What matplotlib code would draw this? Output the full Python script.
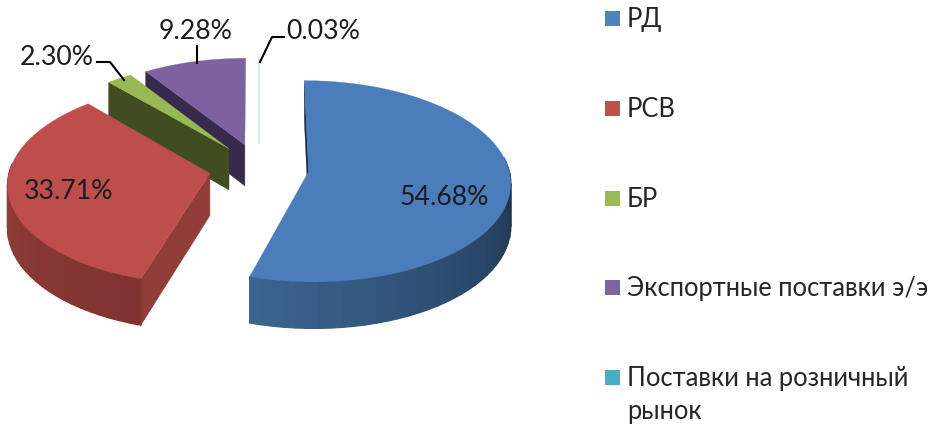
import numpy as np
import matplotlib
matplotlib.use("Agg")
import matplotlib.pyplot as plt
from matplotlib.colors import to_rgb
from matplotlib.patches import Rectangle

plt.rcParams['font.family'] = ['Lato', 'Open Sans', 'DejaVu Sans']

# chart data
categories = ["РД", "РСВ", "БР", "Экспортные поставки э/э", "Поставки на розничный\nрынок"]
shares = [54.68, 33.71, 2.30, 9.28, 0.03]
share_labels = ["54.68%", "33.71%", "2.30%", "9.28%", "0.03%"]

# colours
legend_colors = ["#4f81bd", "#c0504d", "#9bbb59", "#8064a2", "#4bacc6"]
top_colors = ["#4a7dba", "#bd4e4b", "#98b954", "#7e61a1", "#dbe9f3"]
rim_start = ["#3b6491", "#923f3b", "#3f4d20", "#372a4d", "#dbe9f3"]
rim_end = ["#1e334d", "#7f3330", "#3f4d20", "#372a4d", "#dbe9f3"]
face_colors = ["#1d2f47", "#913e3a", "#3f4d20", "#372a4d", "#e6eff6"]

# fake 3d camera, all in pixels of the 933x425 picture
CX, CY = 259, 168
RX, RY = 200, 99
DEPTH = 42
PERSP = 0.095
EXPLODE = 0.25


def project(wx, wv, z=0.0):
    den = 1 + PERSP * wv
    return CX + RX * wx / den, CY - RY * wv / den + z * DEPTH / den


fig = plt.figure(figsize=(9.33, 4.25), dpi=100)
ax = fig.add_axes([0, 0, 1, 1])
ax.set_xlim(0, 933)
ax.set_ylim(425, 0)
ax.axis("off")

edges = np.cumsum([0] + shares) / sum(shares) * 2 * np.pi


def draw_slice(i):
    t1, t2 = edges[i], edges[i + 1]
    mid = (t1 + t2) / 2
    ox, ov = EXPLODE * np.sin(mid), EXPLODE * np.cos(mid)
    th = np.linspace(t1, t2, max(int(np.degrees(t2 - t1) / 3), 2) + 1)
    wx, wv = ox + np.sin(th), ov + np.cos(th)

    # radial side face that looks at the camera (the aqua sliver has none)
    if i != 4:
        ex, ev = ox + np.sin(t1), ov + np.cos(t1)
        pts = [project(ox, ov), project(ex, ev), project(ex, ev, 1), project(ox, ov, 1)]
        ax.fill(*zip(*pts), color=face_colors[i], lw=0.3)

    # outer rim, small strips so the shading runs along the arc
    c1, c2 = np.array(to_rgb(rim_start[i])), np.array(to_rgb(rim_end[i]))
    keep = np.where(np.cos(th) < 0.15)[0]
    if i != 4:
        order = keep[::-1]
        for n, k in enumerate(order[:-1]):
            j = order[n + 1]
            frac = n / max(len(order) - 2, 1)
            col = c1 + (c2 - c1) * frac
            pts = [project(wx[k], wv[k]), project(wx[j], wv[j]),
                   project(wx[j], wv[j], 1), project(wx[k], wv[k], 1)]
            ax.fill(*zip(*pts), color=col, lw=0.9)

    # top of the slice
    px, py = project(np.r_[ox, wx], np.r_[ov, wv])
    lw = 0.9 if i == 4 else 0.2
    ax.fill(px, py, color=top_colors[i], lw=lw)


for i in [4, 3, 2, 1, 0]:
    draw_slice(i)

# data labels
label_pos = [(444, 197), (69, 191), (57, 57), (196, 31), (323, 31)]
for text, (x, y) in zip(share_labels, label_pos):
    ax.text(x, y, text, fontsize=19.2, color="#1c1c1c", ha="center", va="center")

# leader lines
leaders = [
    ([97, 110, 124], [62, 62, 80]),
    ([197, 197], [46, 63]),
    ([284, 272, 260], [37, 37, 62]),
]
for lx, ly in leaders:
    ax.plot(lx, ly, color="black", lw=1.5)

# legend by hand, the last label wraps under its first line
legend_y = [18, 108, 198, 287, 377]
for name, col, y in zip(categories, legend_colors, legend_y):
    ax.add_patch(Rectangle((605, y - 7.5), 15, 15, color=col, lw=0))
    ax.text(627, y - 11, name, fontsize=18.4, color="#262626", ha="left", va="top", linespacing=1.4)

fig.savefig("out.png", dpi=100)
